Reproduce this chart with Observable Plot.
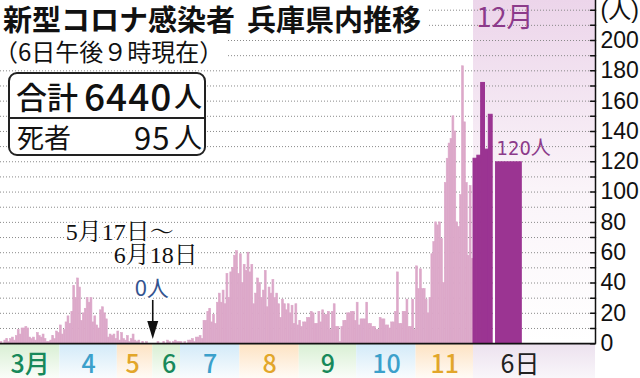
<!DOCTYPE html>
<html lang="ja"><head><meta charset="utf-8">
<script src="https://cdn.jsdelivr.net/npm/d3@7"></script>
<script src="https://cdn.jsdelivr.net/npm/@observablehq/plot@0.6"></script>
<style>
html,body{margin:0;padding:0;background:#fff;}
#wrap{position:relative;width:640px;height:378px;overflow:hidden;font-family:"Noto Sans CJK JP","Noto Sans",sans-serif;color:#111;}
#wrap svg{position:absolute;left:0;top:0;}
.ov{position:absolute;background:#fff;white-space:nowrap;}
#title{left:0;top:0;height:36px;line-height:36px;padding:0 6px 0 3px;font-size:29px;font-weight:700;}
#title .sp{display:inline-block;width:12px;}
#sub{left:0;top:36px;height:30px;line-height:30px;padding-right:4px;font-size:24px;text-indent:-6px;}
#box{left:8px;top:72px;width:194px;height:80px;border:2px solid #222;border-radius:9px;}
#box .r1{position:absolute;left:0;top:0;width:100%;height:43px;border-bottom:2px solid #222;}
#box span{position:absolute;white-space:nowrap;}
</style></head>
<body><div id="wrap"></div>
<script>
// ---- data (daily new cases, Hyogo) ----
const march     = [1,0,2,3,1,3,4,2,5,9,6,10,10,11,10,4,3,4,2,7,5,4,6,3,1,1,2,5,3,8,7];
const april     = [12,6,9,14,18,13,21,38,30,43,37,15,20,23,30,27,30,14,18,12,10,22,24,20,16,4,6,5,6,3];
const may       = [8,2,7,3,2,5,1,3,6,2,1,2,0,1,0,1];            // May 1–16
const june      = [1,0,0,1,0,2,1,0,1,2,1,1];                     // June 19–30
const july      = [1,0,1,0,2,2,3,1,4,4,5,3,15,15,21,23,14,19,13,27,33,27,35,26,46,30,47,50,58,61,46];
const august    = [59,40,52,48,60,47,52,26,33,43,40,30,35,48,24,37,33,42,30,33,26,17,29,26,22,26,20,25,13,26,12];
const september = [15,11,14,14,17,17,21,20,13,13,21,14,22,19,19,21,9,21,26,11,11,1,11,15,15,20,20,21,21,15];
const october   = [27,12,16,16,16,27,13,13,11,11,9,9,17,16,16,12,12,10,14,14,21,47,13,13,21,21,29,11,11,29,9];
const november  = [51,36,49,36,36,29,20,30,59,67,80,78,80,69,40,106,122,132,135,150,140,80,77,98,183,146,106,58,104,56];
const december  = [122,124,172,128,151,120];                     // Dec 1–6

const monthLabels = ["3月","4","5","6","7","8","9","10","11"];
const monthTones  = ["green","blue","orange","green","blue","orange","green","blue","orange"];
const decLabel = "12月";
const decDayLabel = "6日";
const decLastLabel = "120人";
const yTickLabels = [0,20,40,60,80,100,120,140,160,180,200];
const yUnitLabel = "(人)";
const zeroNote = ["5月17日〜","6月18日"];
const zeroCount = "0人";
const titleText = ["新型コロナ感染者","兵庫県内推移"];
const subtitleText = "（6日午後９時現在）";
const totalLabel = ["合計","6440","人"];
const deathLabel = ["死者","95","人"];

// ---- layout (in day units) ----
const GAP = 5, DEC_DAY = 2, DEC6_GAP = 1.5, DEC6_W = 14, PANEL_W = 63.7;
const Y_MIN = -23, Y_MAX = 226.4;

const toneText = {green:"#17895a", blue:"#3ba0cb", orange:"#e2a62a"};
const toneFill = {green:"url(#g-green)", blue:"url(#g-blue)", orange:"url(#g-orange)"};

const monthly = [march, april, may, june, july, august, september, october, november];
const bars = [], strips = [], labels = [];
let pos = 0, gapCenter = 0;
monthly.forEach((vals, m) => {
  const gapBefore = m === 3 ? GAP / 2 : 0;
  const gapAfter = m === 2 ? GAP : 0;
  const start = pos;
  vals.forEach((v, i) => bars.push({x1: start + i, x2: start + i + 1, v}));
  const end = start + vals.length;
  if (gapAfter) gapCenter = end + gapAfter / 2;
  strips.push({x1: start - gapBefore, x2: end + gapAfter / 2, tone: monthTones[m]});
  labels.push({x: (start + end) / 2, text: monthLabels[m], tone: monthTones[m]});
  pos = end + gapAfter;
});
const decStart = pos;
const xEnd = decStart + PANEL_W;
const decBars = december.map((v, i) => i < 5
  ? {x1: decStart + i * DEC_DAY, x2: decStart + (i + 1) * DEC_DAY, v}
  : {x1: decStart + 5 * DEC_DAY + DEC6_GAP, x2: decStart + 5 * DEC_DAY + DEC6_GAP + DEC6_W, v});
const dec6 = decBars[5];

const gridTicks = d3.range(10, 221, 10);
const axisTicks = d3.range(0, 221, 10);

const defs = () => {
  const g = document.createElementNS("http://www.w3.org/2000/svg", "defs");
  const grad = (id, a, b) => `<linearGradient id="${id}" x1="0" y1="0" x2="0" y2="1"><stop offset="0" stop-color="${a}"/><stop offset="1" stop-color="${b}"/></linearGradient>`;
  g.innerHTML = grad("g-green", "#d8efd3", "#fafdf9") + grad("g-blue", "#d2eaf8", "#f9fcfe") +
    grad("g-orange", "#fde2c2", "#fffbf6") + grad("g-decstrip", "#ece1ee", "#f9f6fa") +
    `<linearGradient id="g-dec" x1="0" y1="0" x2="0" y2="1"><stop offset="0" stop-color="#ecd5ea"/><stop offset="0.55" stop-color="#faf4f9"/><stop offset="1" stop-color="#ffffff"/></linearGradient>`;
  return g;
};
const tickShape = {draw(ctx, l) { ctx.moveTo(0, 0); ctx.lineTo(0, -l); }};
const tri = {draw(ctx) { ctx.moveTo(-5.5, -9); ctx.lineTo(5.5, -9); ctx.lineTo(0, 9); ctx.closePath(); }};
const serif = "Liberation Serif, Noto Serif CJK JP, serif";
const sans = "Noto Sans CJK JP, Noto Sans, sans-serif";
const LIGHT = "#dca8c9", DARK = "#9b3492";

const plot = Plot.plot({
  width: 640, height: 378,
  marginLeft: 0, marginRight: 45, marginTop: 0, marginBottom: 0,
  x: {domain: [0, xEnd], axis: null},
  y: {domain: [Y_MIN, Y_MAX], axis: null},
  color: {type: "identity"},
  style: {background: "white", fontFamily: sans},
  marks: [
    defs,
    Plot.rect([0], {x1: () => decStart, x2: () => xEnd, y1: () => 0, y2: () => Y_MAX, fill: "url(#g-dec)"}),
    Plot.gridY(gridTicks, {stroke: "#8a8a8a", strokeOpacity: 1, strokeDasharray: "1,2"}),
    Plot.rect(strips, {x1: "x1", x2: "x2", y1: () => Y_MIN, y2: () => 0, fill: d => toneFill[d.tone]}),
    Plot.rect([0], {x1: () => decStart, x2: () => xEnd, y1: () => Y_MIN, y2: () => 0, fill: "url(#g-decstrip)"}),
    Plot.rect(bars, {x1: "x1", x2: "x2", y1: () => 0, y2: "v", fill: LIGHT, stroke: LIGHT, strokeWidth: 0.6}),
    Plot.rect(decBars.slice(0, 5), {x1: "x1", x2: "x2", y1: () => 0, y2: "v", fill: DARK, stroke: DARK, strokeWidth: 1}),
    Plot.rect(decBars.slice(5), {x1: "x1", x2: "x2", y1: () => 0, y2: "v", fill: DARK}),
    Plot.ruleY([0], {stroke: "#111", strokeWidth: 1.6}),
    Plot.ruleX([xEnd], {x: d => d, y1: () => 0, y2: () => Y_MAX, stroke: "#111", strokeWidth: 1.5}),
    Plot.vector(axisTicks, {x: () => xEnd, y: d => d, length: 5, rotate: -90, anchor: "start", shape: tickShape, stroke: "#111"}),
    Plot.axisY(yTickLabels.concat([220]), {anchor: "right", tickSize: 0, tickPadding: 5,
      tickFormat: d => d === 220 ? yUnitLabel : String(d), fontSize: 23,
      fontFamily: "Liberation Sans, Arimo, Noto Sans CJK JP, sans-serif", fill: "#111", label: null, textAnchor: "start"}),
    Plot.text(labels, {x: "x", y: () => Y_MIN * 0.6, text: "text", fill: d => toneText[d.tone], fontSize: 25, fontFamily: sans, fontWeight: 500}),
    Plot.text([decDayLabel], {x: () => (dec6.x1 + dec6.x2) / 2, y: () => Y_MIN * 0.6, text: d => d, dx: 11, fill: "#222", fontSize: 25, fontFamily: sans}),
    Plot.text([decLabel], {x: () => decStart, y: () => Y_MAX, dy: 18, dx: 3, text: d => d, textAnchor: "start", fontSize: 27, fill: "#8c3a8a", fontFamily: sans}),
    Plot.text([decLastLabel], {x: () => dec6.x1, y: () => december[5], dy: -13, dx: 1, text: d => d, textAnchor: "start", fontSize: 20, letterSpacing: -1.5, fill: "#8c3a8a", fontFamily: "Liberation Sans Narrow, DejaVu Sans Condensed, Noto Sans CJK JP, sans-serif"}),
    Plot.text([zeroNote[0]], {x: () => gapCenter, y: () => 73.3, dx: -33, text: d => d, fontSize: 24, fill: "#111", fontFamily: serif, stroke: "white", strokeWidth: 5, paintOrder: "stroke"}),
    Plot.text([zeroNote[1]], {x: () => gapCenter, y: () => 58, dx: 3, text: d => d, fontSize: 24, fill: "#111", fontFamily: serif, stroke: "white", strokeWidth: 5, paintOrder: "stroke"}),
    Plot.text([zeroCount], {x: () => gapCenter, y: () => 36.3, dx: -1, text: d => d, fontSize: 22, fill: "#35548f", fontFamily: sans, stroke: "white", strokeWidth: 4, paintOrder: "stroke"}),
    Plot.ruleX([gapCenter], {x: d => d, y1: () => 14, y2: () => 28.5, stroke: "#111", strokeWidth: 1.6}),
    Plot.dot([gapCenter], {x: d => d, y: () => 9, symbol: tri, r: 5, fill: "#111", stroke: "none"})
  ]
});

const wrap = document.getElementById("wrap");
wrap.appendChild(plot);

const t = document.createElement("div");
t.className = "ov"; t.id = "title";
t.innerHTML = `${titleText[0]}<span class="sp"></span>${titleText[1]}`;
wrap.appendChild(t);
const s = document.createElement("div");
s.className = "ov"; s.id = "sub"; s.textContent = subtitleText;
wrap.appendChild(s);
const b = document.createElement("div");
b.className = "ov"; b.id = "box";
b.innerHTML = `<div class="r1"></div>
<span style="left:6px;top:0;font-size:31px;line-height:43px;font-weight:500">${totalLabel[0]}</span>
<span style="left:74px;top:0;font-size:37px;line-height:43px;letter-spacing:1px;font-weight:500">${totalLabel[1]}</span>
<span style="left:164px;top:0;font-size:28px;line-height:43px;font-weight:500">${totalLabel[2]}</span>
<span style="left:7px;top:45px;font-size:27px;line-height:35px">${deathLabel[0]}</span>
<span style="left:124px;top:45px;font-size:31px;line-height:35px;letter-spacing:1px">${deathLabel[1]}</span>
<span style="left:164px;top:45px;font-size:28px;line-height:35px">${deathLabel[2]}</span>`;
wrap.appendChild(b);
</script>
</body></html>
